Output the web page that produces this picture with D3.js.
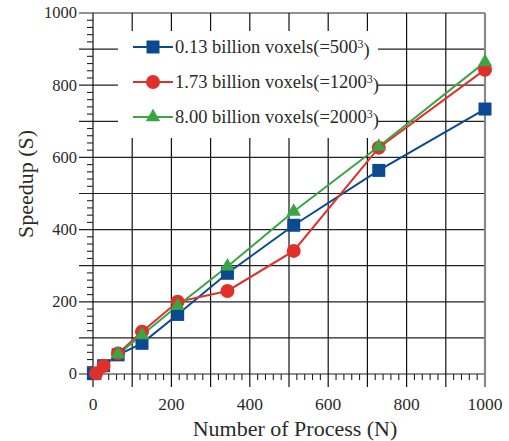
<!DOCTYPE html>
<html>
<head>
<meta charset="utf-8">
<title>Speedup</title>
<script src="https://d3js.org/d3.v7.min.js"></script>
<style>
	body { margin: 0; background: #fff; }
	text { font-family: 'Liberation Serif', 'Times New Roman', serif; fill: #2a2a2a; }
	.ytick-label { font-size: 16.5px; }
	.xtick-label { font-size: 17.5px; }
	.axis-title { font-size: 22px; }
	.legend text { font-size: 18.5px; }
</style>
</head>
<body>
<script>
// data
var blueN = [1, 27, 64, 125, 216, 343, 512, 729, 1000];
var blueS = [1, 23, 53, 85, 165, 279, 412, 564, 734];
var redN = [8, 27, 64, 125, 216, 343, 512, 729, 1000];
var redS = [2, 22, 57, 117, 200, 230, 341, 627, 843];
var greenN = [64, 125, 216, 343, 512, 729, 1000];
var greenS = [55, 108, 189, 298, 450, 630, 864];
var seriesNames = ["0.13 billion voxels(=500", "1.73 billion voxels(=1200", "8.00 billion voxels(=2000"];
var xTicks = [0, 200, 400, 600, 800, 1000];
var yTicks = [0, 200, 400, 600, 800, 1000];

var W = 509, H = 441;
var margin = {top: 13, right: 24, bottom: 67, left: 93};
var width = W - margin.left - margin.right,
	height = H - margin.top - margin.bottom;

var svg = d3.select("body").append("svg")
	.attr("width", W).attr("height", H);
var g = svg.append("g")
	.attr("transform", "translate(" + margin.left + "," + margin.top + ")");

var x = d3.scaleLinear().domain([0, 1000]).range([0, width]);
var y = d3.scaleLinear().domain([0, 1000]).range([height, 0]);

var grid = d3.range(0, 1001, 100);
var minor = d3.range(0, 1001, 20).filter(function(v) { return v % 100; });

// horizontal grid lines (extend left past the axis)
g.selectAll(".hgrid").data(grid).enter().append("line")
	.attr("x1", -14).attr("x2", width)
	.attr("y1", function(d) { return y(d); }).attr("y2", function(d) { return y(d); })
	.style("stroke", "#222").style("stroke-width", 1.2);

// vertical grid lines (extend below the axis)
g.selectAll(".vgrid").data(grid.filter(function(d) { return d < 1000; })).enter().append("line")
	.attr("y1", 0).attr("y2", height + 13)
	.attr("x1", function(d) { return x(d); }).attr("x2", function(d) { return x(d); })
	.style("stroke", "#111").style("stroke-width", 1.2);

// right border
g.append("line")
	.attr("x1", x(1000)).attr("x2", x(1000)).attr("y1", 0).attr("y2", height + 13)
	.style("stroke", "#888").style("stroke-width", 2.2);

// minor ticks
g.selectAll(".ymin").data(minor).enter().append("line")
	.attr("x1", -6).attr("x2", 0)
	.attr("y1", function(d) { return y(d); }).attr("y2", function(d) { return y(d); })
	.style("stroke", "#222").style("stroke-width", 1.1);
g.selectAll(".xmin").data(minor).enter().append("line")
	.attr("y1", height).attr("y2", height + 6)
	.attr("x1", function(d) { return x(d); }).attr("x2", function(d) { return x(d); })
	.style("stroke", "#222").style("stroke-width", 1.1);

// tick labels
g.selectAll(".xl").data(xTicks).enter().append("text")
	.attr("class", "xtick-label")
	.attr("x", function(d) { return x(d); }).attr("y", height + 36)
	.attr("text-anchor", "middle").text(function(d) { return d; });
g.selectAll(".yl").data(yTicks).enter().append("text")
	.attr("class", "ytick-label")
	.attr("x", -16).attr("y", function(d) { return y(d); })
	.attr("dy", "0.33em")
	.attr("text-anchor", "end").text(function(d) { return d; });

// axis titles
g.append("text").attr("class", "axis-title")
	.attr("x", 295 - margin.left).attr("y", height + 62)
	.attr("text-anchor", "middle").text("Number of Process (N)");
g.append("text").attr("class", "axis-title")
	.attr("transform", "translate(" + (33 - margin.left) + "," + (184 - margin.top) + ") rotate(-90)")
	.attr("text-anchor", "middle").text("Speedup (S)");

// legend background
g.append("rect")
	.attr("x", 118 - margin.left).attr("y", 31 - margin.top)
	.attr("width", 260).attr("height", 107)
	.style("fill", "#fff");

var colors = ["#0b4a91", "#e0302a", "#3aa544"];
var series = [
	blueN.map(function(n, i) { return [n, blueS[i]]; }),
	redN.map(function(n, i) { return [n, redS[i]]; }),
	greenN.map(function(n, i) { return [n, greenS[i]]; })
];

var line = d3.line().x(function(d) { return x(d[0]); }).y(function(d) { return y(d[1]); });

function drawMarker(sel, k) {
	if (k === 0) {
		sel.append("rect").attr("x", -6.5).attr("y", -6.5).attr("width", 13).attr("height", 13)
			.style("fill", colors[0]);
	} else if (k === 1) {
		sel.append("circle").attr("r", 7).style("fill", colors[1]);
	} else {
		sel.append("path").attr("d", d3.symbol().type(d3.symbolTriangle).size(90))
			.style("fill", colors[2]);
	}
}

series.forEach(function(s, k) {
	g.append("path").datum(s).attr("d", line)
		.style("fill", "none").style("stroke", colors[k]).style("stroke-width", 2);
});
series.forEach(function(s, k) {
	g.selectAll(".m" + k).data(s).enter().append("g")
		.attr("transform", function(d) { return "translate(" + x(d[0]) + "," + y(d[1]) + ")"; })
		.each(function() { drawMarker(d3.select(this), k); });
});

// legend
var legend = g.append("g").attr("class", "legend");
seriesNames.forEach(function(name, k) {
	var ly = 47 - margin.top + k * 35;
	var lx = 133 - margin.left;
	legend.append("line").attr("x1", lx).attr("x2", lx + 40).attr("y1", ly).attr("y2", ly)
		.style("stroke", colors[k]).style("stroke-width", 2);
	var m = legend.append("g").attr("transform", "translate(" + (lx + 20) + "," + ly + ")");
	drawMarker(m, k);
	var t = legend.append("text").attr("x", lx + 42).attr("y", ly).attr("dy", "0.35em");
	t.append("tspan").text(name);
	t.append("tspan").attr("dy", "-0.45em").style("font-size", "12px").text("3");
	t.append("tspan").attr("dy", "0.45em").text(")");
});
</script>
</body>
</html>
